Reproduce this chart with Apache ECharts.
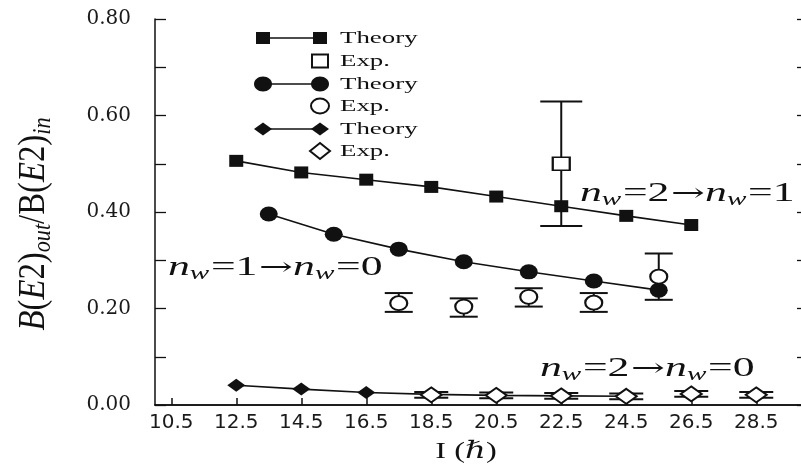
<!DOCTYPE html>
<html>
<head>
<meta charset="utf-8">
<script src="https://cdn.jsdelivr.net/npm/echarts@6/dist/echarts.min.js"></script>
<style>
  html, body { margin: 0; padding: 0; background: #fff; }
  #chart { width: 801px; height: 472px; }
</style>
</head>
<body>
<div id="chart"></div>
<script>
// Spin values on the horizontal axis and labelled ratio ticks
const spinTicks = [10.5, 12.5, 14.5, 16.5, 18.5, 20.5, 22.5, 24.5, 26.5, 28.5];
const ratioTicks = [0, 0.2, 0.4, 0.6, 0.8];

// n_w = 2 -> n_w = 1 (squares)
const sqTheoryJ = [12.5, 14.5, 16.5, 18.5, 20.5, 22.5, 24.5, 26.5];
const sqTheoryVal = [0.506, 0.482, 0.467, 0.452, 0.432, 0.412, 0.392, 0.373];
const sqExpJ = [22.5];
const sqExpVal = [0.50];
const sqExpLow = [0.371];
const sqExpHigh = [0.629];

// n_w = 1 -> n_w = 0 (circles)
const cirTheoryJ = [13.5, 15.5, 17.5, 19.5, 21.5, 23.5, 25.5];
const cirTheoryVal = [0.396, 0.354, 0.323, 0.297, 0.276, 0.257, 0.238];
const cirExpJ = [17.5, 19.5, 21.5, 23.5, 25.5];
const cirExpVal = [0.211, 0.204, 0.224, 0.212, 0.266];
const cirExpLow = [0.193, 0.183, 0.204, 0.193, 0.218];
const cirExpHigh = [0.232, 0.221, 0.242, 0.232, 0.314];

// n_w = 2 -> n_w = 0 (diamonds)
const diaTheoryJ = [12.5, 14.5, 16.5, 18.5, 20.5, 22.5, 24.5];
const diaTheoryVal = [0.041, 0.033, 0.026, 0.022, 0.020, 0.019, 0.018];
const diaExpJ = [18.5, 20.5, 22.5, 24.5, 26.5, 28.5];
const diaExpVal = [0.021, 0.020, 0.019, 0.018, 0.023, 0.021];
const diaExpLow = [0.015, 0.014, 0.013, 0.012, 0.017, 0.015];
const diaExpHigh = [0.027, 0.026, 0.025, 0.024, 0.029, 0.027];

const INK = '#111';
const pairs = (xs, ys) => xs.map((x, i) => [x, ys[i]]);

function theorySeries(name, xs, ys, symbol, size) {
  return {
    name, type: 'line', data: pairs(xs, ys),
    symbol, symbolSize: size, showAllSymbol: true,
    lineStyle: { color: INK, width: 1.6 },
    itemStyle: { color: INK, opacity: 1 },
    z: 2, animation: false, silent: true
  };
}

function expSeries(name, xs, ys, symbol, size) {
  return {
    name, type: 'scatter', data: pairs(xs, ys),
    symbol, symbolSize: size,
    itemStyle: { color: '#fff', borderColor: INK, borderWidth: 2, opacity: 1 },
    z: 5, animation: false, silent: true
  };
}

function errorBars(xs, lo, hi, capW) {
  return {
    type: 'custom', z: 4, silent: true, animation: false,
    data: xs.map((x, i) => [x, lo[i], hi[i]]),
    encode: { x: 0, y: [1, 2] },
    renderItem(params, api) {
      const top = api.coord([api.value(0), api.value(2)]);
      const bot = api.coord([api.value(0), api.value(1)]);
      const h = capW / 2;
      const st = { stroke: INK, lineWidth: 2 };
      return {
        type: 'group',
        children: [
          { type: 'line', shape: { x1: top[0], y1: top[1], x2: bot[0], y2: bot[1] }, style: st },
          { type: 'line', shape: { x1: top[0] - h, y1: top[1], x2: top[0] + h, y2: top[1] }, style: st },
          { type: 'line', shape: { x1: bot[0] - h, y1: bot[1], x2: bot[0] + h, y2: bot[1] }, style: st }
        ]
      };
    }
  };
}

// Legend drawn as small glyph rows
const SERIF = '"Liberation Serif", "DejaVu Serif", serif';
const legendRows = [
  { y: 38, shape: 'rect', filled: true, label: 'Theory' },
  { y: 61, shape: 'rect', filled: false, label: 'Exp.' },
  { y: 84, shape: 'circle', filled: true, label: 'Theory' },
  { y: 106, shape: 'circle', filled: false, label: 'Exp.' },
  { y: 129, shape: 'diamond', filled: true, label: 'Theory' },
  { y: 151, shape: 'diamond', filled: false, label: 'Exp.' }
];

function glyph(shape, cx, cy, filled) {
  const style = filled ? { fill: INK } : { fill: '#fff', stroke: INK, lineWidth: 2 };
  if (shape === 'rect') {
    const w = filled ? 14 : 16, h = filled ? 12 : 13;
    return { type: 'rect', shape: { x: cx - w / 2, y: cy - h / 2, width: w, height: h }, style };
  }
  if (shape === 'circle') {
    return { type: 'ellipse', shape: { cx, cy, rx: 9, ry: 7.5 }, style };
  }
  const rx = filled ? 9 : 10, ry = filled ? 6.5 : 8;
  return { type: 'polygon', shape: { points: [[cx - rx, cy], [cx, cy - ry], [cx + rx, cy], [cx, cy + ry]] }, style };
}

const legendGraphics = [];
legendRows.forEach(r => {
  if (r.filled) {
    legendGraphics.push({ type: 'line', shape: { x1: 263, y1: r.y, x2: 320, y2: r.y }, style: { stroke: INK, lineWidth: 1.6 } });
    legendGraphics.push(glyph(r.shape, 263, r.y, true));
  }
  legendGraphics.push(glyph(r.shape, 320, r.y, r.filled));
  legendGraphics.push({
    type: 'text', x: 340, y: r.y + 1, scaleX: 1.58,
    style: { text: r.label, font: '17px ' + SERIF, fill: INK, align: 'left', verticalAlign: 'middle' }
  });
});

const mathRich = {
  n: { fontFamily: SERIF, fontStyle: 'italic', fontSize: 27, lineHeight: 31, fill: INK },
  w: { fontFamily: SERIF, fontStyle: 'italic', fontSize: 18, lineHeight: 14, verticalAlign: 'bottom', fill: INK },
  o: { fontFamily: SERIF, fontSize: 27, lineHeight: 31, fill: INK, padding: [0, 1, 0, 1] },
  a: { fontFamily: '"DejaVu Serif", serif', fontSize: 25, lineHeight: 31, fill: INK }
};
function transitionLabel(a, b, x, y) {
  return {
    type: 'text', x, y, scaleX: 1.62, z: 10,
    style: {
      text: '{n|n}{w|w}{o|=' + a + '}{a|→}{n|n}{w|w}{o|=' + b + '}',
      rich: mathRich, align: 'left', verticalAlign: 'middle'
    }
  };
}

const chart = echarts.init(document.getElementById('chart'), null, { renderer: 'canvas' });
chart.setOption({
  backgroundColor: '#fff',
  animation: false,
  grid: { left: 155, width: 650, top: 19, height: 386, outerBoundsMode: 'none', containLabel: false },
  xAxis: [
    {
      type: 'value', min: 10, max: 30, position: 'bottom',
      axisLine: { lineStyle: { color: INK, width: 1.5 } },
      axisTick: { inside: true, length: 7, customValues: spinTicks, lineStyle: { color: INK, width: 1.5 } },
      axisLabel: {
        customValues: spinTicks, formatter: v => v.toFixed(1), margin: 8,
        fontFamily: '"DejaVu Sans", sans-serif', fontSize: 20, color: '#1a1a1a'
      },
      splitLine: { show: false }
    },
    {
      type: 'value', min: 10, max: 30, position: 'top',
      axisLine: { lineStyle: { color: INK, width: 1.5 } },
      axisTick: { show: false }, axisLabel: { show: false }, splitLine: { show: false }
    }
  ],
  yAxis: [
    {
      type: 'value', min: 0, max: 0.8, interval: 0.1, position: 'left',
      axisLine: { show: true, lineStyle: { color: INK, width: 1.5 } },
      axisTick: { show: true, inside: true, length: 11, lineStyle: { color: INK, width: 1.3 } },
      axisLabel: {
        customValues: ratioTicks, formatter: v => v.toFixed(2), margin: 24,
        fontFamily: '"DejaVu Serif", serif', fontSize: 20, color: '#1a1a1a'
      },
      splitLine: { show: false }
    },
    {
      type: 'value', min: 0, max: 0.8, interval: 0.1, position: 'right',
      axisLine: { show: false },
      axisTick: { show: true, inside: true, length: 8, lineStyle: { color: INK, width: 1.3 } },
      axisLabel: { show: false }, splitLine: { show: false }
    }
  ],
  series: [
    theorySeries('sqTheory', sqTheoryJ, sqTheoryVal, 'rect', [14, 12]),
    errorBars(sqExpJ, sqExpLow, sqExpHigh, 42),
    expSeries('sqExp', sqExpJ, sqExpVal, 'rect', [17, 13]),

    theorySeries('cirTheory', cirTheoryJ, cirTheoryVal, 'circle', [18, 15]),
    errorBars(cirExpJ, cirExpLow, cirExpHigh, 28),
    expSeries('cirExp', cirExpJ, cirExpVal, 'circle', [17, 14]),

    theorySeries('diaTheory', diaTheoryJ, diaTheoryVal, 'diamond', [18, 13]),
    errorBars(diaExpJ, diaExpLow, diaExpHigh, 34),
    expSeries('diaExp', diaExpJ, diaExpVal, 'diamond', [21, 15])
  ],
  graphic: [
    ...legendGraphics,
    transitionLabel(2, 1, 580, 194),
    transitionLabel(1, 0, 168, 268),
    transitionLabel(2, 0, 540, 369),
    {
      type: 'text', x: 34, y: 224, rotation: Math.PI / 2, scaleX: 1.17, scaleY: 1.35,
      style: {
        text: '{i|B}{r|(}{i|E}{r|2)}{s|out}{r|/B(}{i|E}{r|2)}{s|in}',
        align: 'center', verticalAlign: 'middle',
        rich: {
          i: { fontFamily: SERIF, fontStyle: 'italic', fontSize: 28, lineHeight: 32, fill: INK },
          r: { fontFamily: SERIF, fontSize: 28, lineHeight: 32, fill: INK },
          s: { fontFamily: SERIF, fontStyle: 'italic', fontSize: 19, lineHeight: 16, verticalAlign: 'bottom', fill: INK }
        }
      }
    },
    {
      type: 'text', x: 466, y: 452, scaleX: 1.35,
      style: {
        text: '{r|I (}{i|ℏ}{r|)}',
        align: 'center', verticalAlign: 'middle',
        rich: {
          r: { fontFamily: SERIF, fontSize: 24, fill: INK },
          i: { fontFamily: SERIF, fontStyle: 'italic', fontSize: 24, fill: INK }
        }
      }
    }
  ]
});
</script>
</body>
</html>
